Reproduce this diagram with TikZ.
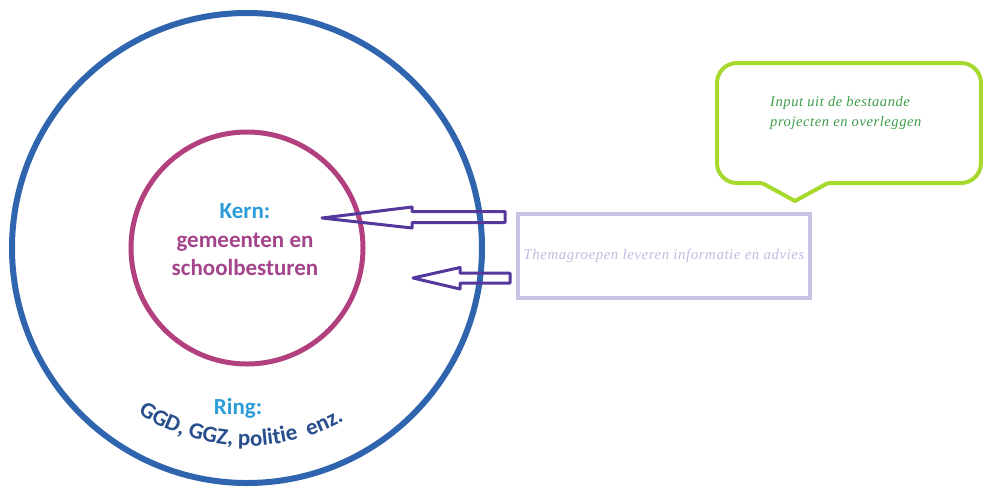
\documentclass[tikz,border=0pt]{standalone}
\usepackage{fontspec}
\setmainfont{Carlito}
\newfontfamily\handf{Liberation Serif}[LetterSpace=4]
\usetikzlibrary{decorations.text,calc}
\definecolor{ringblue}{HTML}{2F65AE}
\definecolor{kernpink}{HTML}{B2407F}
\definecolor{textpink}{HTML}{A4448A}
\definecolor{labelcyan}{HTML}{2B9CD8}
\definecolor{darkblue}{HTML}{284F8C}
\definecolor{arrowpurple}{HTML}{55389C}
\definecolor{lavender}{HTML}{C9C3E3}
\definecolor{lavtext}{HTML}{C2BADF}
\definecolor{bubblegreen}{HTML}{A6D82E}
\definecolor{bubbletext}{HTML}{3C9C48}
\tikzset{
  circline/.style={line width=6pt},
  blockarrow/.style={draw=arrowpurple, line width=3pt, line join=round, fill=none},
  bigtext/.style={font=\bfseries\fontsize{23}{28}\selectfont, inner sep=0pt, anchor=base},
  handtext/.style={font=\handf\itshape\fontsize{14.8}{18}\selectfont, inner sep=0pt},
  bubbletxt/.style={font=\handf\itshape\fontsize{14.5}{20}\selectfont, text=bubbletext, inner sep=0pt, align=left, anchor=north west}
}
\begin{document}
\begin{tikzpicture}[x=1pt,y=-1pt]
\useasboundingbox (0,0) rectangle (983,488);
% circles
\coordinate (c) at (247,248);
\draw[circline, draw=ringblue] (c) circle[radius=235];
\draw[line width=5pt, draw=kernpink] (c) circle[radius=116];
% kern text
\node[bigtext, text=labelcyan] (kern) at (245,218) {Kern:};
\node[bigtext, text=textpink] (gem) at (245,247) {gemeenten en};
\node[bigtext, text=textpink] (school) at (245,275) {schoolbesturen};
% ring text
\node[bigtext, text=labelcyan] (ring) at (238,414) {Ring:};
\path[decorate, decoration={text along path, text align=center,
  text={|\bfseries\fontsize{23}{28}\selectfont\color{darkblue}|GGD, GGZ, politie\ \ enz.}}]
  (c) ++(126:198) arc[start angle=126, end angle=58, radius=198];
% info box
\node[draw=lavender, line width=4pt, minimum width=292pt, minimum height=84pt, inner sep=0pt] (box) at (664,256) {};
\node[handtext, text=lavtext] (boxtext) at (box.center) {Themagroepen leveren informatie en advies};
% arrows
\coordinate (a1tail) at (505,217);
\coordinate (a1tip) at (322,218);
\coordinate (a2tail) at (510,278);
\coordinate (a2tip) at (413,278);
\draw[blockarrow] (a1tail) ++(0,-5.5) -- ++(-93,0) -- ++(0,-4.5) -- (a1tip)
  -- ($(a1tail)+(-93,11)$) -- ++(0,-5.5) -- ($(a1tail)+(0,5.5)$) -- cycle;
\draw[blockarrow] (a2tail) ++(0,-5) -- ++(-50,0) -- ++(0,-5.5) -- (a2tip)
  -- ($(a2tail)+(-50,11)$) -- ++(0,-6) -- ($(a2tail)+(0,5)$) -- cycle;
% speech bubble
\coordinate (btip) at (795,201);
\draw[draw=bubblegreen, line width=4pt, rounded corners=20pt]
  (762,183) -- (717,183) -- (717,63) -- (981,63) -- (981,183) -- (828,183);
\draw[draw=bubblegreen, line width=4pt, line join=round] (762,183) -- (btip) -- (828,183);
\node[bubbletxt] (bubtext) at (770,96) {Input uit de bestaande\\projecten en overleggen};
\end{tikzpicture}
\end{document}
